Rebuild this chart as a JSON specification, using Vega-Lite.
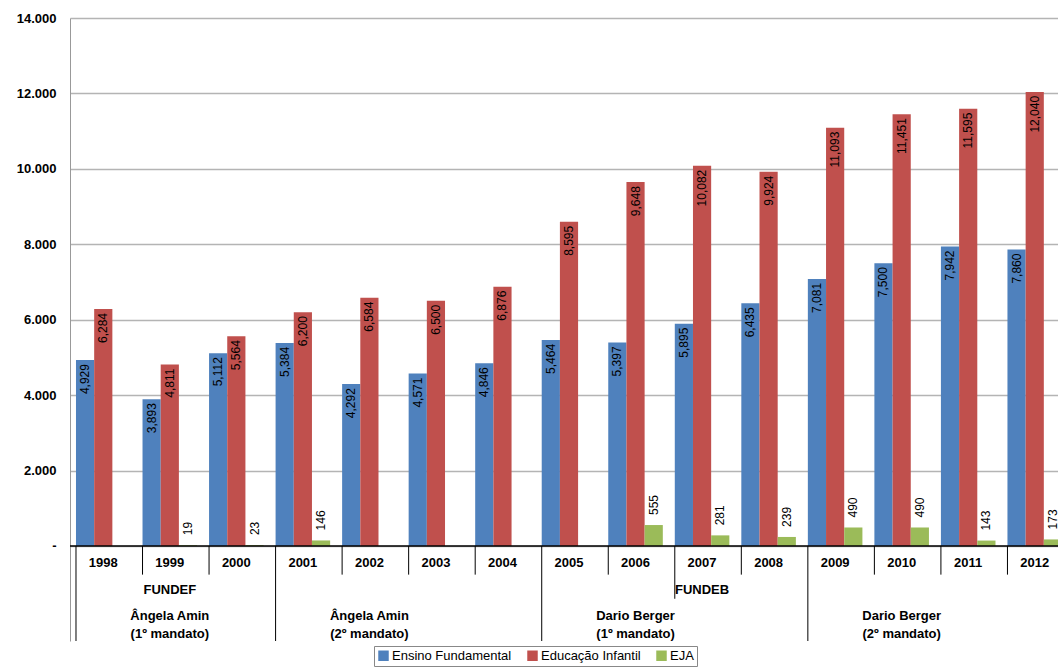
{
  "$schema": "https://vega.github.io/schema/vega-lite/v6.json",
  "width": 998,
  "height": 623,
  "padding": {"left": 16, "top": 12, "right": 0, "bottom": 0},
  "background": "white",
  "config": {
    "view": {"stroke": null},
    "font": "Liberation Sans",
    "text": {"font": "Liberation Sans"},
    "axis": {"labelFont": "Liberation Sans", "titleFont": "Liberation Sans"},
    "legend": {"labelFont": "Liberation Sans"}
  },
  "datasets": {
    "bars": [
      {"year": "1998", "serie": "Ensino Fundamental", "v": 4929},
      {"year": "1998", "serie": "Educação Infantil", "v": 6284},
      {"year": "1999", "serie": "Ensino Fundamental", "v": 3893},
      {"year": "1999", "serie": "Educação Infantil", "v": 4811},
      {"year": "1999", "serie": "EJA", "v": 19},
      {"year": "2000", "serie": "Ensino Fundamental", "v": 5112},
      {"year": "2000", "serie": "Educação Infantil", "v": 5564},
      {"year": "2000", "serie": "EJA", "v": 23},
      {"year": "2001", "serie": "Ensino Fundamental", "v": 5384},
      {"year": "2001", "serie": "Educação Infantil", "v": 6200},
      {"year": "2001", "serie": "EJA", "v": 146},
      {"year": "2002", "serie": "Ensino Fundamental", "v": 4292},
      {"year": "2002", "serie": "Educação Infantil", "v": 6584},
      {"year": "2003", "serie": "Ensino Fundamental", "v": 4571},
      {"year": "2003", "serie": "Educação Infantil", "v": 6500},
      {"year": "2004", "serie": "Ensino Fundamental", "v": 4846},
      {"year": "2004", "serie": "Educação Infantil", "v": 6876},
      {"year": "2005", "serie": "Ensino Fundamental", "v": 5464},
      {"year": "2005", "serie": "Educação Infantil", "v": 8595},
      {"year": "2006", "serie": "Ensino Fundamental", "v": 5397},
      {"year": "2006", "serie": "Educação Infantil", "v": 9648},
      {"year": "2006", "serie": "EJA", "v": 555},
      {"year": "2007", "serie": "Ensino Fundamental", "v": 5895},
      {"year": "2007", "serie": "Educação Infantil", "v": 10082},
      {"year": "2007", "serie": "EJA", "v": 281},
      {"year": "2008", "serie": "Ensino Fundamental", "v": 6435},
      {"year": "2008", "serie": "Educação Infantil", "v": 9924},
      {"year": "2008", "serie": "EJA", "v": 239},
      {"year": "2009", "serie": "Ensino Fundamental", "v": 7081},
      {"year": "2009", "serie": "Educação Infantil", "v": 11093},
      {"year": "2009", "serie": "EJA", "v": 490},
      {"year": "2010", "serie": "Ensino Fundamental", "v": 7500},
      {"year": "2010", "serie": "Educação Infantil", "v": 11451},
      {"year": "2010", "serie": "EJA", "v": 490},
      {"year": "2011", "serie": "Ensino Fundamental", "v": 7942},
      {"year": "2011", "serie": "Educação Infantil", "v": 11595},
      {"year": "2011", "serie": "EJA", "v": 143},
      {"year": "2012", "serie": "Ensino Fundamental", "v": 7860},
      {"year": "2012", "serie": "Educação Infantil", "v": 12040},
      {"year": "2012", "serie": "EJA", "v": 173}
    ],
    "lines": [
      {"year": "1998", "top": 0, "bottom": -2520},
      {"year": "1999", "top": 0, "bottom": -760},
      {"year": "2000", "top": 0, "bottom": -760},
      {"year": "2001", "top": 0, "bottom": -2520},
      {"year": "2002", "top": 0, "bottom": -760},
      {"year": "2003", "top": 0, "bottom": -760},
      {"year": "2004", "top": 0, "bottom": -760},
      {"year": "2005", "top": 0, "bottom": -2520},
      {"year": "2006", "top": 0, "bottom": -760},
      {"year": "2007", "top": 0, "bottom": -1400},
      {"year": "2008", "top": 0, "bottom": -760},
      {"year": "2009", "top": 0, "bottom": -2520},
      {"year": "2010", "top": 0, "bottom": -760},
      {"year": "2011", "top": 0, "bottom": -760},
      {"year": "2012", "top": 0, "bottom": -760}
    ],
    "groups": [
      {"year": "1999", "pos": 0.5, "y": -1170, "label": "FUNDEF"},
      {"year": "2007", "pos": 1, "y": -1170, "label": "FUNDEB"},
      {"year": "1999", "pos": 0.5, "y": -1870, "label": "Ângela Amin"},
      {"year": "1999", "pos": 0.5, "y": -2330, "label": "(1º mandato)"},
      {"year": "2002", "pos": 1, "y": -1870, "label": "Ângela Amin"},
      {"year": "2002", "pos": 1, "y": -2330, "label": "(2º mandato)"},
      {"year": "2006", "pos": 1, "y": -1870, "label": "Dario Berger"},
      {"year": "2006", "pos": 1, "y": -2330, "label": "(1º mandato)"},
      {"year": "2010", "pos": 1, "y": -1870, "label": "Dario Berger"},
      {"year": "2010", "pos": 1, "y": -2330, "label": "(2º mandato)"}
    ]
  },
  "layer": [
    {
      "data": {"name": "bars"},
      "mark": {"type": "bar"},
      "encoding": {
        "x": {"field": "year", "type": "nominal", "axis": null,
              "scale": {"paddingInner": 0.18, "paddingOuter": 0.09}},
        "xOffset": {"field": "serie", "type": "nominal",
                    "sort": ["Ensino Fundamental", "Educação Infantil", "EJA"]},
        "y": {"field": "v", "type": "quantitative",
              "scale": {"domain": [-2520, 14000], "nice": false},
              "axis": {"title": null, "values": [0, 2000, 4000, 6000, 8000, 10000, 12000, 14000],
                       "labelExpr": "datum.value == 0 ? '-' : replace(format(datum.value, ','), ',', '.')",
                       "labelFontWeight": "bold", "labelFontSize": 13, "labelColor": "black",
                       "ticks": false, "labelPadding": 14, "domainColor": "#999999",
                       "gridColor": "#b4b4b4", "gridWidth": 1.5}},
        "color": {"field": "serie", "type": "nominal",
                  "sort": ["Ensino Fundamental", "Educação Infantil", "EJA"],
                  "scale": {"domain": ["Ensino Fundamental", "Educação Infantil", "EJA"],
                            "range": ["#4F81BD", "#C0504D", "#9BBB59"]},
                  "legend": {"title": null, "orient": "none", "legendX": 304, "legendY": 628,
                             "direction": "horizontal",
                             "symbolType": "square", "symbolSize": 110, "labelFontSize": 13,
                             "labelColor": "black", "strokeColor": "#888888", "padding": 3,
                             "columnPadding": 14, "labelOffset": 2}}
      }
    },
    {
      "data": {"name": "bars"},
      "transform": [{"filter": "datum.serie != 'EJA'"}],
      "mark": {"type": "text", "angle": 270, "align": "right", "baseline": "middle",
               "dx": -4, "fontSize": 12, "color": "black"},
      "encoding": {
        "x": {"field": "year", "type": "nominal"},
        "xOffset": {"field": "serie", "type": "nominal",
                    "sort": ["Ensino Fundamental", "Educação Infantil", "EJA"]},
        "y": {"field": "v", "type": "quantitative"},
        "text": {"field": "v", "type": "quantitative", "format": ","}
      }
    },
    {
      "data": {"name": "bars"},
      "transform": [{"filter": "datum.serie == 'EJA'"}],
      "mark": {"type": "text", "angle": 270, "align": "left", "baseline": "middle",
               "dx": 10, "fontSize": 12, "color": "black"},
      "encoding": {
        "x": {"field": "year", "type": "nominal"},
        "xOffset": {"field": "serie", "type": "nominal",
                    "sort": ["Ensino Fundamental", "Educação Infantil", "EJA"]},
        "y": {"field": "v", "type": "quantitative"},
        "text": {"field": "v", "type": "quantitative", "format": ","}
      }
    },
    {
      "data": {"name": "lines"},
      "mark": {"type": "rule", "color": "black", "strokeWidth": 1},
      "encoding": {
        "x": {"field": "year", "type": "nominal", "bandPosition": 0},
        "y": {"field": "top", "type": "quantitative"},
        "y2": {"field": "bottom"}
      }
    },
    {
      "data": {"values": [{"v": 0}]},
      "mark": {"type": "rule", "color": "black", "strokeWidth": 1.5},
      "encoding": {"y": {"field": "v", "type": "quantitative"}}
    },
    {
      "data": {"name": "lines"},
      "mark": {"type": "text", "fontWeight": "bold", "fontSize": 13, "color": "black"},
      "encoding": {
        "x": {"field": "year", "type": "nominal"},
        "y": {"datum": -450, "type": "quantitative"},
        "text": {"field": "year"}
      }
    },
    {
      "data": {"name": "groups"},
      "mark": {"type": "text", "fontWeight": "bold", "fontSize": 13, "color": "black"},
      "encoding": {
        "x": {"field": "year", "type": "nominal", "bandPosition": 0.5},
        "y": {"field": "y", "type": "quantitative"},
        "text": {"field": "label"},
        "dx": {"condition": {"test": "datum.pos == 1", "value": 33}, "value": 0}
      }
    }
  ]
}
